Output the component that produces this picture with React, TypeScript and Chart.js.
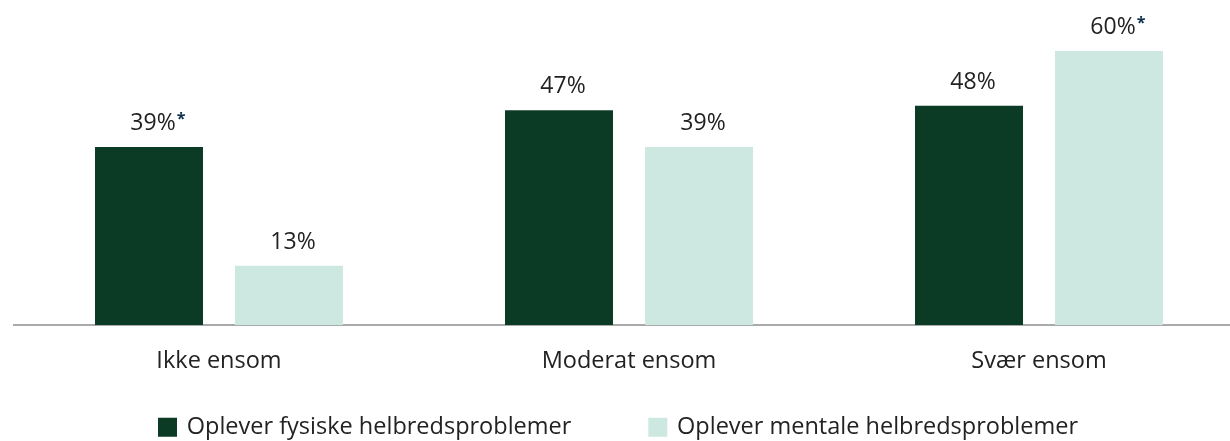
import React, { useEffect, useRef } from "react";
import { Chart, registerables } from "chart.js";

Chart.register(...registerables);

const categories = ["Ikke ensom", "Moderat ensom", "Svær ensom"];
const seriesLabels = ["Oplever fysiske helbredsproblemer", "Oplever mentale helbredsproblemer"];
const physicalValues = [39, 47, 48];
const mentalValues = [13, 39, 60];
const physicalMarked = [true, false, false];
const mentalMarked = [false, false, true];
const valueMax = 60;

const DARK = "#0c3b25";
const LIGHT = "#cde8e0";
const TEXT = "#222222";
const STAR = "#0e2f4c";
const FONT = "'Open Sans', sans-serif";

const CANVAS_W = 1260;
const CANVAS_H = 441;
const AXIS_BOTTOM = 325;
const AXIS_H = 50;
const LEGEND_PAD = 79;
const LEGEND_FONT = 23.5;
const LEGEND_ROW_TOP = 415.5;
const LEGEND_SHIFT = -10;

export default function App() {
  const ref = useRef<HTMLCanvasElement>(null);

  useEffect(() => {
    if (!ref.current) return;
    const marks = [physicalMarked, mentalMarked];

    const valueLabels = {
      id: "valueLabels",
      afterDatasetsDraw(chart: any) {
        const ctx = chart.ctx;
        chart.data.datasets.forEach((ds: any, di: number) => {
          const meta = chart.getDatasetMeta(di);
          meta.data.forEach((bar: any, i: number) => {
            const text = ds.data[i] + "%";
            const x = bar.x + 4;
            const y = bar.y - 17;
            ctx.save();
            ctx.font = `23px ${FONT}`;
            ctx.fillStyle = TEXT;
            ctx.textAlign = "center";
            ctx.textBaseline = "alphabetic";
            ctx.fillText(text, x, y);
            if (marks[di][i]) {
              const w = ctx.measureText(text).width;
              ctx.font = `bold 16px ${FONT}`;
              ctx.fillStyle = STAR;
              ctx.textAlign = "left";
              ctx.fillText("*", x + w / 2 + 1, y - 6);
            }
            ctx.restore();
          });
        });
      },
    };

    const legendPlace = {
      id: "legendPlace",
      beforeLayout(chart: any) {
        const lg = chart.legend;
        if (lg && !lg.__patched) {
          const origFit = lg.fit;
          lg.fit = function () {
            origFit.call(this);
            this.height = CANVAS_H - AXIS_BOTTOM - AXIS_H;
          };
          lg.__patched = true;
        }
      },
      afterLayout(chart: any) {
        const lg = chart.legend;
        if (lg) {
          lg.left += LEGEND_SHIFT;
          lg.right += LEGEND_SHIFT;
          lg.top = LEGEND_ROW_TOP - LEGEND_PAD;
          lg.bottom = CANVAS_H;
          lg.height = lg.bottom - lg.top;
        }
      },
    };

    const chart = new Chart(ref.current, {
      type: "bar",
      data: {
        labels: categories,
        datasets: [
          {
            label: seriesLabels[0],
            data: physicalValues,
            backgroundColor: DARK,
            borderWidth: 0,
            barPercentage: 0.7714,
            categoryPercentage: 0.6829,
          },
          {
            label: seriesLabels[1],
            data: mentalValues,
            backgroundColor: LIGHT,
            borderWidth: 0,
            barPercentage: 0.7714,
            categoryPercentage: 0.6829,
          },
        ],
      },
      options: {
        responsive: false,
        animation: false,
        events: [],
        layout: { padding: { left: 14, right: 16, top: 51, bottom: 0 } },
        plugins: {
          tooltip: { enabled: false },
          legend: {
            position: "bottom",
            labels: {
              font: { family: FONT, size: LEGEND_FONT },
              color: TEXT,
              boxWidth: 15,
              boxHeight: 15,
              padding: LEGEND_PAD,
              generateLabels(c: any) {
                const items = (Chart.defaults.plugins.legend.labels as any).generateLabels(c);
                return items.map((it: any) => ({ ...it, strokeStyle: it.fillStyle, lineWidth: 4 }));
              },
            },
          },
        },
        scales: {
          x: {
            grid: { display: false, drawTicks: false },
            border: { display: true, color: "#aaaaaa", width: 2 },
            ticks: { font: { family: FONT, size: 23.5 }, color: TEXT, padding: 22 },
            afterFit(scale: any) {
              scale.height = AXIS_H;
            },
          },
          y: { display: false, min: 0, max: valueMax },
        },
      },
      plugins: [valueLabels, legendPlace],
    } as any);

    return () => chart.destroy();
  }, []);

  return (
    <div style={{ position: "fixed", left: 0, top: 0, width: 1230, height: 441, overflow: "hidden", background: "#fff" }}>
      <canvas ref={ref} width={CANVAS_W} height={CANVAS_H} style={{ display: "block", width: CANVAS_W, height: CANVAS_H }} />
    </div>
  );
}
